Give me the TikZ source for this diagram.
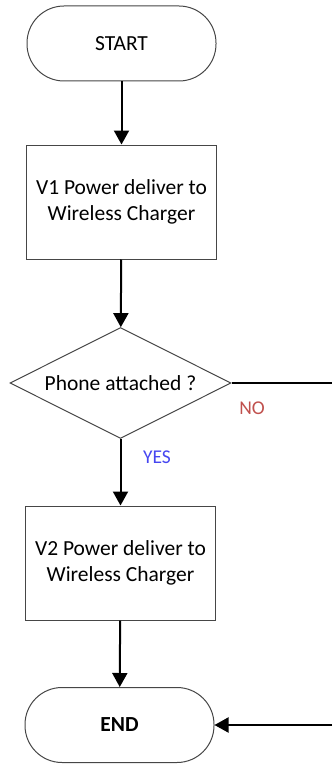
\documentclass[tikz,border=0pt]{standalone}
\usepackage{fontspec}
\setmainfont{Carlito}
\usetikzlibrary{shapes.geometric,arrows.meta}
\definecolor{noRed}{RGB}{192,80,77}
\definecolor{yesBlue}{RGB}{70,70,240}
\definecolor{edgeGray}{RGB}{70,70,70}
\tikzset{
  shapeline/.style={draw=edgeGray, line width=1pt, fill=white, text=black, font=\fontsize{21.5}{26}\selectfont, align=center},
  terminal/.style={shapeline, rectangle, rounded corners=37pt, minimum width=189pt, minimum height=75pt, inner sep=0pt},
  process/.style={shapeline, rectangle, minimum width=190pt, minimum height=114pt, inner sep=0pt},
  decision/.style={shapeline, diamond, shape aspect=2, minimum width=221pt, minimum height=111pt, inner sep=0pt},
  flow/.style={draw=black, line width=2pt, -{Triangle[width=15pt,length=14pt]}},
  plainflow/.style={draw=black, line width=2pt},
  lbl/.style={font=\fontsize{19.5}{22}\selectfont, inner sep=0pt}
}
\begin{document}
\begin{tikzpicture}[x=1pt,y=1pt]
\useasboundingbox (0,0) rectangle (332,-765);
\node[terminal] (start) at (121.5,-43.5) {START};
\node[process] (v1) at (121.5,-202) {V1 Power deliver to\\Wireless Charger};
\node[decision] (dec) at (120.5,-383) {Phone attached ?};
\node[process] (v2) at (120.5,-563) {V2 Power deliver to\\Wireless Charger};
\node[terminal] (end) at (119.5,-725) {\textbf{END}};
\coordinate (noA) at (332,-383);
\coordinate (noB) at (332,-725);
\draw[flow] (start) -- (v1);
\draw[flow] (v1) -- (dec);
\draw[flow] (dec) -- (v2);
\draw[flow] (v2) -- (end);
\draw[plainflow] (dec.east) -- (noA);
\draw[flow] (noB) -- (end.east);
\node[lbl, text=noRed] (no) at (252,-408) {NO};
\node[lbl, text=yesBlue] (yes) at (157,-457) {YES};
\end{tikzpicture}
\end{document}
